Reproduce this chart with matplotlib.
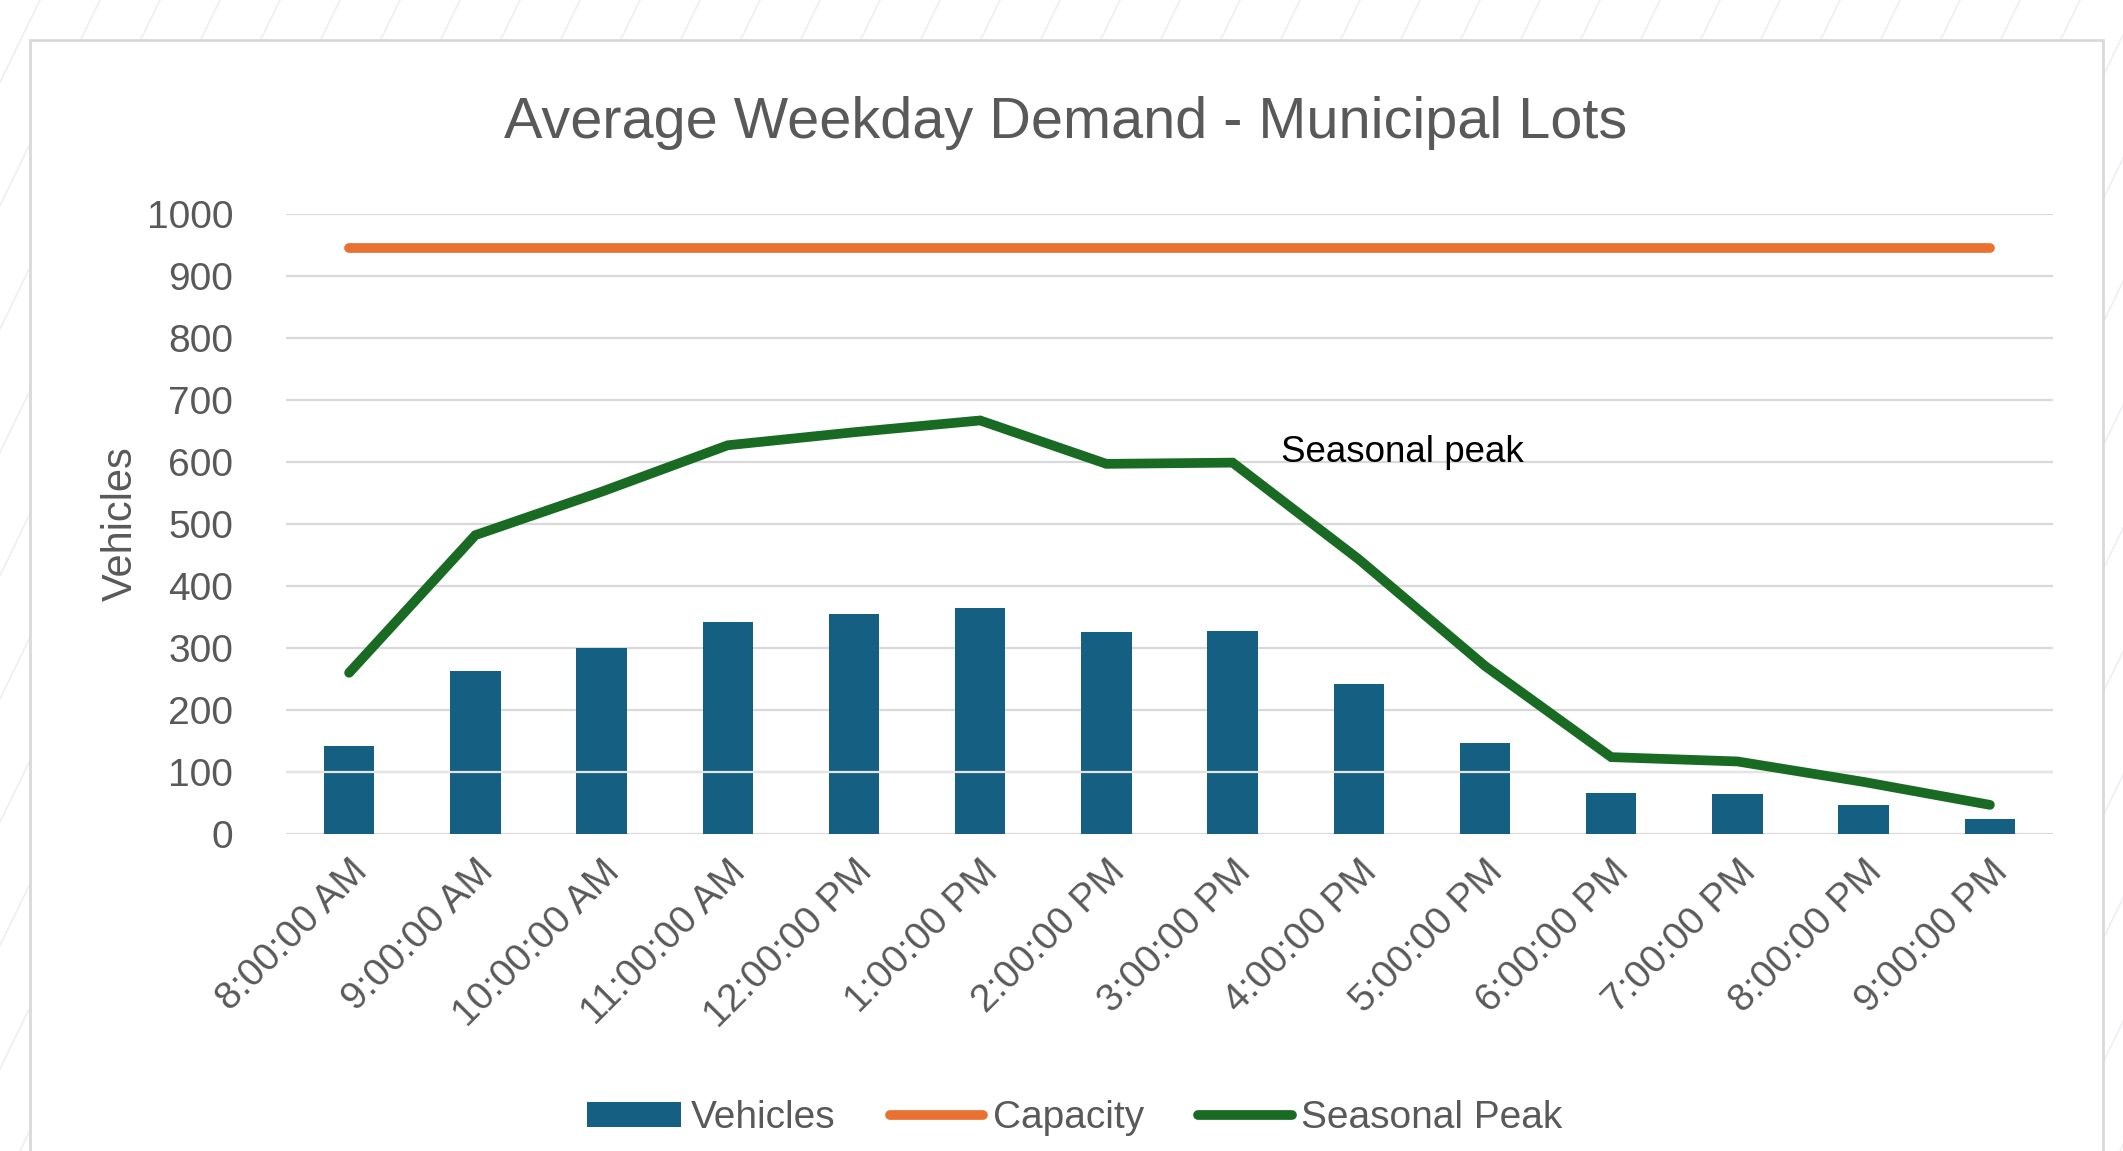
import numpy as np
import matplotlib.pyplot as plt
from matplotlib.lines import Line2D
from matplotlib.patches import Rectangle

# -------------------------------------------------------------------
# DATA
# -------------------------------------------------------------------
hours = ["8:00:00 AM", "9:00:00 AM", "10:00:00 AM", "11:00:00 AM", "12:00:00 PM",
         "1:00:00 PM", "2:00:00 PM", "3:00:00 PM", "4:00:00 PM", "5:00:00 PM",
         "6:00:00 PM", "7:00:00 PM", "8:00:00 PM", "9:00:00 PM"]
vehicles = [142, 263, 300, 342, 355, 365, 326, 328, 242, 147, 66, 65, 46, 24]
capacity = [945] * len(hours)
seasonal_peak = [260, 482, 552, 627, 648, 667, 597, 599, 443, 271, 124, 117, 84, 47]
y_ticks = [0, 100, 200, 300, 400, 500, 600, 700, 800, 900, 1000]

# colours
bar_blue = "#156082"
cap_orange = "#E97132"
peak_green = "#196B24"
txt_gray = "#595959"
grid_gray = "#D9D9D9"

plt.rcParams["font.family"] = ["Liberation Sans", "DejaVu Sans"]

W, H = 2123, 1151
fig = plt.figure(figsize=(W / 100, H / 100), dpi=100)
fig.patch.set_facecolor("white")

# faint diagonal background pattern + the white chart box
for x0 in range(-700, W + 100, 60):
    fig.add_artist(Line2D([x0 / W, (x0 + 560) / W], [0, 1], color="#EDEFF4",
                          lw=1.2, transform=fig.transFigure, zorder=0))
fig.add_artist(Rectangle((30 / W, -0.05), 2073 / W, 1.05 - 40 / H,
                         transform=fig.transFigure, facecolor="white",
                         edgecolor=grid_gray, lw=2, zorder=1))

ax = fig.add_axes([286 / W, 1 - 834 / H, 1767 / W, 620 / H], zorder=2)
ax.set_facecolor("none")

x = np.arange(len(hours))
bars = ax.bar(x, vehicles, width=0.4, color=bar_blue, label="Vehicles", zorder=2)
cap_line, = ax.plot(x, capacity, color=cap_orange, lw=7, solid_capstyle="round",
                    label="Capacity", zorder=3)
peak_line, = ax.plot(x, seasonal_peak, color=peak_green, lw=7, solid_capstyle="round",
                     solid_joinstyle="miter", label="Seasonal Peak", zorder=4)
# the 100 gridline shows through the bars in the original
ax.axhline(100, color="#E4E4E4", lw=1.6, zorder=2.5)

ax.set_xlim(-0.5, len(hours) - 0.5)
ax.set_ylim(0, 1000)
ax.set_yticks(y_ticks)
ax.grid(axis="y", color=grid_gray, lw=1.6, zorder=0)
ax.set_axisbelow(True)
for s in ax.spines.values():
    s.set_visible(False)
ax.tick_params(length=0, colors=txt_gray, labelsize=28)
ax.tick_params(axis="y", pad=38)
ax.set_xticks(x)
ax.set_xticklabels(hours, rotation=45, ha="right", rotation_mode="anchor")
ax.tick_params(axis="x", pad=14)

ax.set_ylabel("Vehicles", color=txt_gray, fontsize=30, labelpad=4)
ax.text(7.385, 616, "Seasonal peak", fontsize=26.5, color="black",
        va="center", ha="left", zorder=5)

fig.text(1066 / W, 1 - 123 / H, "Average Weekday Demand - Municipal Lots",
         ha="center", va="center", fontsize=41.5, color=txt_gray, zorder=3)

leg = ax.legend([bars, cap_line, peak_line], ["Vehicles", "Capacity", "Seasonal Peak"],
                loc="center", bbox_to_anchor=(1075 / W, 1 - 1118 / H),
                bbox_transform=fig.transFigure, ncol=3, frameon=False,
                fontsize=28, handlelength=2.4, handleheight=0.6,
                handletextpad=0.25, columnspacing=1.4)
for t in leg.get_texts():
    t.set_color(txt_gray)

fig.savefig("out.png", dpi=100)
